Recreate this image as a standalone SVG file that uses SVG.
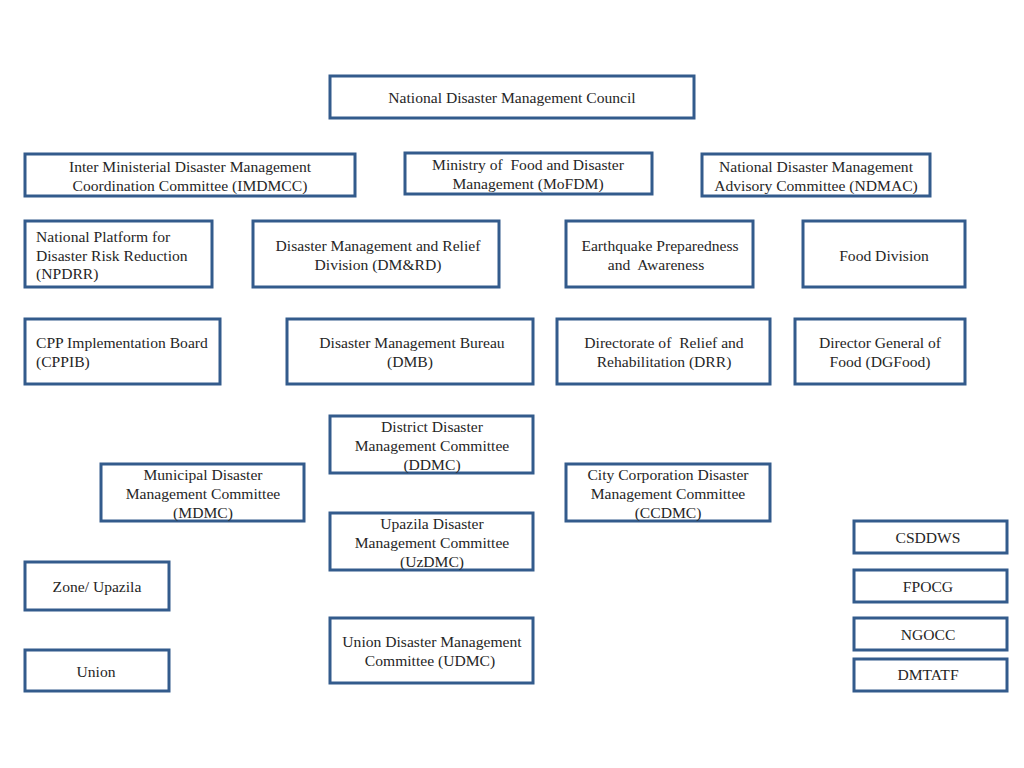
<svg xmlns="http://www.w3.org/2000/svg" width="1024" height="768" viewBox="0 0 1024 768">
<style>
.b{fill:#fff;stroke:#335b8c;stroke-width:3}
text{font-family:"Liberation Serif","Times New Roman",serif;font-size:15.6px;fill:#262626;white-space:pre}
.c{text-anchor:middle}
</style>
<rect width="1024" height="768" fill="#fff"/>
<g id="connectors"></g>
<g id="ndmc"><rect class="b" x="330" y="76" width="364" height="42"/><text class="c" x="512" y="103">National Disaster Management Council</text></g>
<g id="imdmcc"><rect class="b" x="25" y="154" width="330" height="42"/><text class="c" x="190" y="172">Inter Ministerial Disaster Management</text><text class="c" x="190" y="191">Coordination Committee (IMDMCC)</text></g>
<g id="mofdm"><rect class="b" x="405" y="153" width="247" height="41"/><text class="c" x="528" y="170" xml:space="preserve">Ministry of  Food and Disaster</text><text class="c" x="528" y="189">Management (MoFDM)</text></g>
<g id="ndmac"><rect class="b" x="702" y="154" width="228" height="42"/><text class="c" x="816" y="172">National Disaster Management</text><text class="c" x="816" y="191">Advisory Committee (NDMAC)</text></g>
<g id="npdrr"><rect class="b" x="25" y="221" width="187" height="66"/><text x="36" y="242">National Platform for</text><text x="36" y="261">Disaster Risk Reduction</text><text x="36" y="279">(NPDRR)</text></g>
<g id="dmrd"><rect class="b" x="253" y="221" width="246" height="66"/><text class="c" x="378" y="251">Disaster Management and Relief</text><text class="c" x="378" y="270">Division (DM&amp;RD)</text></g>
<g id="epa"><rect class="b" x="566" y="221" width="187" height="66"/><text class="c" x="660" y="251">Earthquake Preparedness</text><text class="c" x="656" y="270" xml:space="preserve">and  Awareness</text></g>
<g id="fooddiv"><rect class="b" x="803" y="221" width="162" height="66"/><text class="c" x="884" y="261">Food Division</text></g>
<g id="cppib"><rect class="b" x="25" y="319" width="195" height="65"/><text x="36" y="348">CPP Implementation Board</text><text x="36" y="367">(CPPIB)</text></g>
<g id="dmb"><rect class="b" x="287" y="319" width="246" height="65"/><text class="c" x="412" y="348">Disaster Management Bureau</text><text class="c" x="410" y="367">(DMB)</text></g>
<g id="drr"><rect class="b" x="557" y="319" width="213" height="65"/><text class="c" x="664" y="348" xml:space="preserve">Directorate of  Relief and</text><text class="c" x="664" y="367">Rehabilitation (DRR)</text></g>
<g id="dgfood"><rect class="b" x="795" y="319" width="170" height="65"/><text class="c" x="880" y="348">Director General of</text><text class="c" x="880" y="367">Food (DGFood)</text></g>
<g id="ddmc"><rect class="b" x="330" y="416" width="203" height="57"/><text class="c" x="432" y="432">District Disaster</text><text class="c" x="432" y="451">Management Committee</text><text class="c" x="432" y="470">(DDMC)</text></g>
<g id="mdmc"><rect class="b" x="101" y="464" width="203" height="57"/><text class="c" x="203" y="480">Municipal Disaster</text><text class="c" x="203" y="499">Management Committee</text><text class="c" x="203" y="518">(MDMC)</text></g>
<g id="ccdmc"><rect class="b" x="566" y="464" width="204" height="57"/><text class="c" x="668" y="480">City Corporation Disaster</text><text class="c" x="668" y="499">Management Committee</text><text class="c" x="668" y="518">(CCDMC)</text></g>
<g id="uzdmc"><rect class="b" x="330" y="513" width="203" height="57"/><text class="c" x="432" y="529">Upazila Disaster</text><text class="c" x="432" y="548">Management Committee</text><text class="c" x="432" y="567">(UzDMC)</text></g>
<g id="zone"><rect class="b" x="25" y="562" width="144" height="48"/><text class="c" x="97" y="592">Zone/ Upazila</text></g>
<g id="udmc"><rect class="b" x="330" y="618" width="203" height="65"/><text class="c" x="432" y="647">Union Disaster Management</text><text class="c" x="430" y="666">Committee (UDMC)</text></g>
<g id="union"><rect class="b" x="25" y="650" width="144" height="41"/><text class="c" x="96" y="677">Union</text></g>
<g id="csddws"><rect class="b" x="854" y="521" width="153" height="32"/><text class="c" x="928" y="543">CSDDWS</text></g>
<g id="fpocg"><rect class="b" x="854" y="570" width="153" height="32"/><text class="c" x="928" y="592">FPOCG</text></g>
<g id="ngocc"><rect class="b" x="854" y="618" width="153" height="32"/><text class="c" x="928" y="640">NGOCC</text></g>
<g id="dmtatf"><rect class="b" x="854" y="659" width="153" height="32"/><text class="c" x="928" y="680">DMTATF</text></g>
</svg>
